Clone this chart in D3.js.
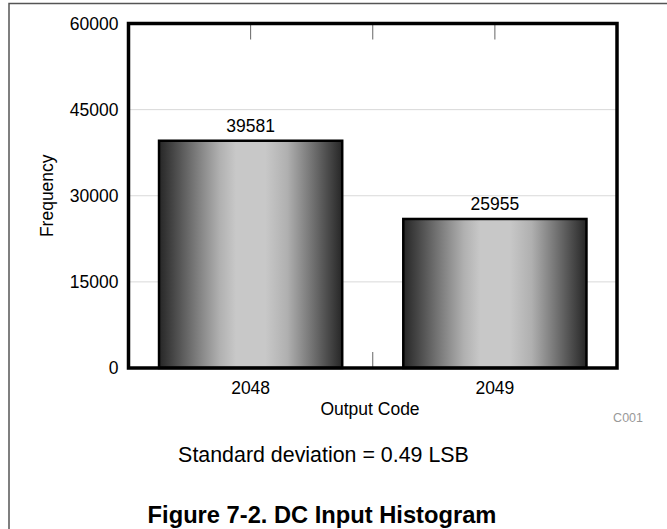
<!DOCTYPE html>
<html>
<head>
<meta charset="utf-8">
<script src="https://cdn.jsdelivr.net/npm/d3@7"></script>
<style>
  html, body { margin: 0; padding: 0; background: #fff; }
  svg { display: block; font-family: "Liberation Sans", Arial, sans-serif; }
</style>
</head>
<body>
<svg id="chart" width="667" height="529"></svg>
<script>
const categories = ["2048", "2049"];
const frequencies = [39581, 25955];
const yTicks = [0, 15000, 30000, 45000, 60000];
const xTitle = "Output Code";
const yTitle = "Frequency";
const note = "Standard deviation = 0.49 LSB";
const caption = "Figure 7-2. DC Input Histogram";
const figId = "C001";

const svg = d3.select("#chart");
const W = 667, H = 529;
const plot = { left: 128.5, right: 617, top: 23.5, bottom: 368 };

// outer frame (left + top only visible)
svg.append("path")
  .attr("d", `M9,${H} L9,3.5 L${W},3.5`)
  .attr("fill", "none").attr("stroke", "#555").attr("stroke-width", 1.5);

const x = d3.scaleBand().domain(categories)
  .range([plot.left, plot.right]).paddingInner(0.25).paddingOuter(0.125);
const y = d3.scaleLinear().domain([0, 60000]).range([plot.bottom, plot.top]);

// gradient
const defs = svg.append("defs");
const grad = defs.append("linearGradient").attr("id", "barGrad")
  .attr("x1", "0%").attr("x2", "100%").attr("y1", "0%").attr("y2", "0%");
[[0, "#262626"], [0.08, "#474747"], [0.2, "#7a7a7a"], [0.33, "#b0b0b0"], [0.42, "#c8c8c8"],
 [0.58, "#c8c8c8"], [0.7, "#b0b0b0"], [0.82, "#7a7a7a"], [0.93, "#474747"], [1, "#262626"]]
 .forEach(([o, c]) => grad.append("stop").attr("offset", o).attr("stop-color", c));

// gridlines
svg.append("g").selectAll("line")
  .data(yTicks.filter(t => t > 0 && t < 60000)).join("line")
  .attr("x1", plot.left).attr("x2", plot.right)
  .attr("y1", d => y(d)).attr("y2", d => y(d))
  .attr("stroke", "#d9d9d9").attr("stroke-width", 1);

// x ticks (top and bottom, inward)
const centers = categories.map(c => x(c) + x.bandwidth() / 2);
const xTickPos = [centers[0], (centers[0] + centers[1]) / 2, centers[1]];
const tg = svg.append("g").attr("stroke", "#666").attr("stroke-width", 1);
xTickPos.forEach(p => {
  tg.append("line").attr("x1", p).attr("x2", p).attr("y1", plot.top).attr("y2", plot.top + 16);
  tg.append("line").attr("x1", p).attr("x2", p).attr("y1", plot.bottom).attr("y2", plot.bottom - 16);
});

// bars
svg.append("g").selectAll("rect")
  .data(categories.map((c, i) => ({ c, v: frequencies[i] }))).join("rect")
  .attr("x", d => x(d.c)).attr("width", x.bandwidth())
  .attr("y", d => y(d.v)).attr("height", d => y(0) - y(d.v))
  .attr("fill", "url(#barGrad)").attr("stroke", "#000").attr("stroke-width", 2.5);

// value labels
svg.append("g").selectAll("text")
  .data(categories.map((c, i) => ({ c, v: frequencies[i] }))).join("text")
  .attr("x", d => x(d.c) + x.bandwidth() / 2).attr("y", d => y(d.v) - 9)
  .attr("text-anchor", "middle").attr("font-size", 17.5).attr("fill", "#000")
  .text(d => d.v);

// plot frame
svg.append("rect")
  .attr("x", plot.left).attr("y", plot.top)
  .attr("width", plot.right - plot.left).attr("height", plot.bottom - plot.top)
  .attr("fill", "none").attr("stroke", "#000").attr("stroke-width", 3.5);

// y axis labels
const yAxis = d3.axisLeft(y).tickValues(yTicks).tickSize(0).tickPadding(10).tickFormat(d3.format("d"));
const ya = svg.append("g").attr("transform", `translate(${plot.left},0)`).call(yAxis);
ya.select(".domain").remove();
ya.selectAll("text").attr("font-size", 17.5).attr("fill", "#000")
  .attr("font-family", "Liberation Sans, Arial, sans-serif");

// x axis labels
const xAxis = d3.axisBottom(x).tickSize(0).tickPadding(14);
const xa = svg.append("g").attr("transform", `translate(0,${plot.bottom})`).call(xAxis);
xa.select(".domain").remove();
xa.selectAll("text").attr("font-size", 17.5).attr("fill", "#000")
  .attr("font-family", "Liberation Sans, Arial, sans-serif");

// axis titles
svg.append("text").attr("x", 370).attr("y", 415).attr("text-anchor", "middle")
  .attr("font-size", 17.5).text(xTitle);
svg.append("text").attr("transform", `translate(53,${(plot.top + plot.bottom) / 2}) rotate(-90)`)
  .attr("text-anchor", "middle").attr("font-size", 17.5).text(yTitle);

svg.append("text").attr("x", 643).attr("y", 422).attr("text-anchor", "end")
  .attr("font-size", 12.5).attr("fill", "#999").text(figId);

svg.append("text").attr("x", 323.5).attr("y", 462).attr("text-anchor", "middle")
  .attr("font-size", 21.4).attr("fill", "#000").text(note);

svg.append("text").attr("x", 322).attr("y", 523).attr("text-anchor", "middle")
  .attr("font-size", 23.7).attr("font-weight", "bold").attr("fill", "#000").text(caption);
</script>
</body>
</html>
